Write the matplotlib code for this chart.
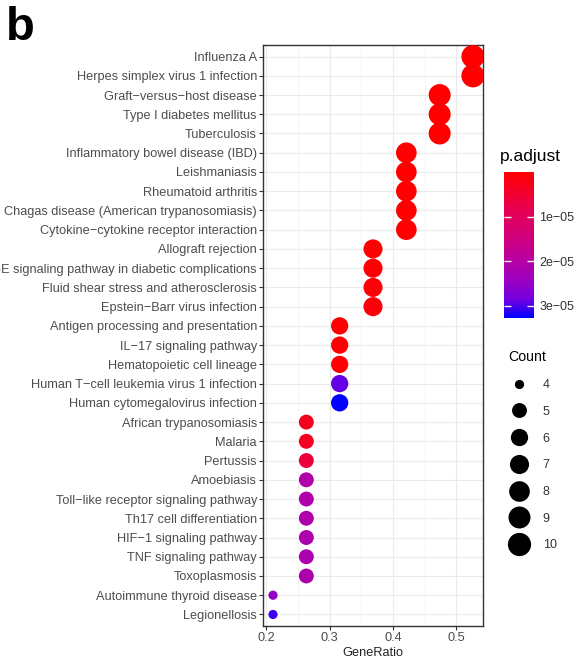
import numpy as np
import matplotlib.pyplot as plt
from matplotlib.colors import LinearSegmentedColormap, Normalize
from matplotlib.lines import Line2D
from matplotlib.ticker import MultipleLocator

plt.rcParams['font.family'] = ['Liberation Sans', 'DejaVu Sans']

# KEGG enrichment result (top to bottom)
terms = [
    'Influenza A',
    'Herpes simplex virus 1 infection',
    'Graft\u2212versus\u2212host disease',
    'Type I diabetes mellitus',
    'Tuberculosis',
    'Inflammatory bowel disease (IBD)',
    'Leishmaniasis',
    'Rheumatoid arthritis',
    'Chagas disease (American trypanosomiasis)',
    'Cytokine\u2212cytokine receptor interaction',
    'Allograft rejection',
    'AGE\u2212RAGE signaling pathway in diabetic complications',
    'Fluid shear stress and atherosclerosis',
    'Epstein\u2212Barr virus infection',
    'Antigen processing and presentation',
    'IL\u221217 signaling pathway',
    'Hematopoietic cell lineage',
    'Human T\u2212cell leukemia virus 1 infection',
    'Human cytomegalovirus infection',
    'African trypanosomiasis',
    'Malaria',
    'Pertussis',
    'Amoebiasis',
    'Toll\u2212like receptor signaling pathway',
    'Th17 cell differentiation',
    'HIF\u22121 signaling pathway',
    'TNF signaling pathway',
    'Toxoplasmosis',
    'Autoimmune thyroid disease',
    'Legionellosis',
]
gene_ratio = ['10/19', '10/19', '9/19', '9/19', '9/19',
              '8/19', '8/19', '8/19', '8/19', '8/19',
              '7/19', '7/19', '7/19', '7/19',
              '6/19', '6/19', '6/19', '6/19', '6/19',
              '5/19', '5/19', '5/19', '5/19', '5/19', '5/19', '5/19', '5/19', '5/19',
              '4/19', '4/19']
counts = [10, 10, 9, 9, 9, 8, 8, 8, 8, 8, 7, 7, 7, 7, 6, 6, 6, 6, 6,
          5, 5, 5, 5, 5, 5, 5, 5, 5, 4, 4]
p_adjust = [1.2e-09, 3.5e-09, 8.0e-09, 1.1e-08, 5.0e-08,
            2.0e-08, 2.5e-08, 6.0e-08, 1.0e-07, 2.0e-07,
            1.0e-07, 4.0e-07, 6.0e-07, 1.0e-06,
            3.0e-07, 4.0e-07, 5.0e-07, 2.9e-05, 3.27e-05,
            3.3e-06, 3.6e-06, 6.0e-06, 2.1e-05, 2.1e-05, 2.1e-05, 2.15e-05, 2.15e-05, 2.15e-05,
            2.5e-05, 3.05e-05]

cbar_ticks = [1e-05, 2e-05, 3e-05]
cbar_labels = ['1e\u221205', '2e\u221205', '3e\u221205']
legend_counts = [4, 5, 6, 7, 8, 9, 10]

ratio = np.array([int(r.split('/')[0]) / int(r.split('/')[1]) for r in gene_ratio])
counts = np.array(counts)
ypos = np.arange(len(terms))

# red -> blue through Lab space, like ggplot's gradient
cmap = LinearSegmentedColormap.from_list(
    'redblue', [(0, '#FF0000'), (0.25, '#E80050'), (0.5, '#CA0088'),
                (0.75, '#9A00C3'), (0.875, '#7300E0'), (1, '#0000FF')])
norm = Normalize(vmin=min(p_adjust), vmax=max(p_adjust))


def dot_size(c):
    # marker diameter in points, area-style scaling of Count
    return 0.72 * (9.2 + 14.0 * np.sqrt((np.asarray(c) - 4) / 6))


W, H = 584, 660
fig = plt.figure(figsize=(W / 100, H / 100), dpi=100)
ax = fig.add_axes([263 / W, 1 - 626 / H, 220 / W, 581 / H])

sc = ax.scatter(ratio, ypos, s=dot_size(counts) ** 2, c=p_adjust, cmap=cmap,
                norm=norm, linewidths=0, zorder=3)

lo, hi = ratio.min(), ratio.max()
pad = 0.05 * (hi - lo)
ax.set_xlim(lo - pad, hi + pad)
ax.set_ylim(len(terms) - 0.4, -0.6)
ax.set_yticks(ypos)
ax.set_yticklabels(terms)
ax.set_xticks([0.2, 0.3, 0.4, 0.5])
ax.set_xticklabels(['0.2', '0.3', '0.4', '0.5'])
ax.xaxis.set_minor_locator(MultipleLocator(0.05))
ax.tick_params(which='major', length=2.9, width=0.8, color='#333333',
               labelcolor='#4D4D4D', labelsize=9.2, pad=1.5)
ax.tick_params(which='minor', length=0)
ax.set_xlabel('GeneRatio', fontsize=9.2, color='#222222', labelpad=2)

ax.set_axisbelow(True)
ax.grid(which='major', color='#EBEBEB', linewidth=0.8)
ax.grid(which='minor', axis='x', color='#F2F2F2', linewidth=0.5)
for sp in ax.spines.values():
    sp.set_color('#333333')
    sp.set_linewidth(1.0)

# colour bar for p.adjust
cax = fig.add_axes([504 / W, 1 - 318 / H, 30 / W, 146 / H])
cb = fig.colorbar(sc, cax=cax)
cb.outline.set_visible(False)
cax.invert_yaxis()
cb.set_ticks(cbar_ticks)
cb.set_ticklabels(cbar_labels)
cax.tick_params(axis='y', direction='in', left=True, right=True, color='#F4F4F4',
                length=5, width=1.0, labelsize=9, labelcolor='#333333', pad=4)
fig.text(500 / W, 1 - 157 / H, 'p.adjust', fontsize=12.5, va='center', ha='left')

# size legend for Count
handles = [Line2D([], [], ls='none', marker='o', color='black', markeredgewidth=0,
                  markersize=dot_size(c)) for c in legend_counts]
leg = fig.legend(handles, [str(c) for c in legend_counts], title='Count',
                 loc='upper left', bbox_to_anchor=(502 / W, 1 - 344 / H),
                 frameon=False, fontsize=9, title_fontsize=10.2,
                 labelspacing=1.18, handlelength=1.65, handletextpad=1.1,
                 borderpad=0, alignment='left')
for t in leg.get_texts():
    t.set_color('#333333')

fig.text(6 / W, 1 - 6 / H, 'b', fontsize=34, fontweight='bold', va='top', ha='left')

fig.savefig('out.png', dpi=100)
